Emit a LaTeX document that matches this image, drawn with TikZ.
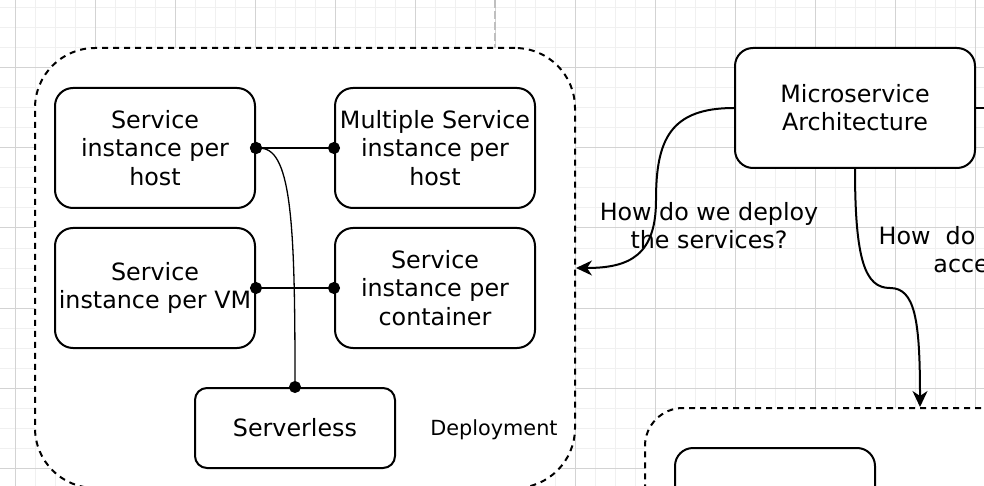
\documentclass[tikz,border=0pt]{standalone}
\usepackage{fontspec}
\setmainfont{DejaVu Sans}
\usepackage{xcolor}
\usepackage{tikz}
\usetikzlibrary{arrows.meta,positioning}

\definecolor{minorgrid}{HTML}{F0F0F0}
\definecolor{majorgrid}{HTML}{D3D3D3}

\begin{document}
\begin{tikzpicture}[x=1pt,y=-1pt,thick,
    box/.style={draw,line width=2pt,rounded corners=18pt,fill=white,minimum width=200pt,minimum height=120pt,inner sep=0pt,align=center,font=\fontsize{23.8}{28.2}\selectfont},
    group/.style={draw,line width=2pt,dash pattern=on 6pt off 5pt,fill=white,inner sep=0pt},
    lbl/.style={inner sep=0pt,align=center,font=\fontsize{23.8}{28.2}\selectfont},
    link/.style={line width=2pt,{Circle[length=12pt]}-{Circle[length=12pt]},shorten <=-6pt,shorten >=-6pt},
    flow/.style={line width=2pt,-{Stealth[length=16pt,width=15pt,inset=5pt]}}]

    \useasboundingbox (0,0) rectangle (984,486);
    \clip (0,0) rectangle (984,486);

    % The grid
    \foreach \x in {-5,15,...,985} \draw[minorgrid,line width=1pt] (\x,0) -- (\x,486);
    \foreach \y in {8,28,...,488} \draw[minorgrid,line width=1pt] (0,\y) -- (984,\y);
    \foreach \x in {15,95,...,975} \draw[majorgrid,line width=1pt] (\x,0) -- (\x,486);
    \foreach \y in {68,148,...,468} \draw[majorgrid,line width=1pt] (0,\y) -- (984,\y);
    \draw[black!25,line width=1.5pt,dash pattern=on 8pt off 3pt] (495,0) -- (495,486);

    % Groups
    \node [group,rounded corners=60pt,minimum width=540pt,minimum height=440pt] at (305,268) (deploy) {};
    \node [group,rounded corners=38pt,minimum width=550pt,minimum height=200pt] at (920,508) (access) {};
    \node [lbl,font=\fontsize{20.8}{24}\selectfont] at (494,430) (deploytxt) {Deployment};

    % Deployment patterns
    \node [box] at (155,148) (host) {Service\\instance per\\host};
    \node [box] at (435,148) (multi) {Multiple Service\\instance per\\host};
    \node [box] at (155,288) (vm) {Service\\instance per VM};
    \node [box] at (435,288) (container) {Service\\instance per\\container};
    \node [box,rounded corners=12pt,minimum height=80pt] at (295,428) (serverless) {Serverless};

    \node [box,minimum width=240pt] at (855,108) (ms) {Microservice\\Architecture};
    \node [box] at (775,508) (inner) {};

    % Graph edges
    \draw [link] (host.east) -- (multi.west);
    \draw [link] (vm.east) -- (container.west);
    \draw [link,line width=1.3pt]
        (host.east) .. controls (292,150) and (295,230) .. (serverless.north);

    \coordinate (msout) at (990,108);
    \draw [line width=2pt] (ms.east) -- (msout);

    \draw [flow] (ms.west) .. controls (670,108) and (656,140) .. (656,200)
        .. controls (656,255) and (630,268) .. (deploy.east);
    \draw [flow] (ms.south) .. controls (855,260) and (865,288) .. (890,288)
        .. controls (915,288) and (920,320) .. (access.north);

    \node [lbl] at (709,226) (q1) {How do we deploy\\the services?};
    \node [lbl] at (973.5,250) (q2) {How\ \ do\ \ clients\\access};

\end{tikzpicture}
\end{document}
